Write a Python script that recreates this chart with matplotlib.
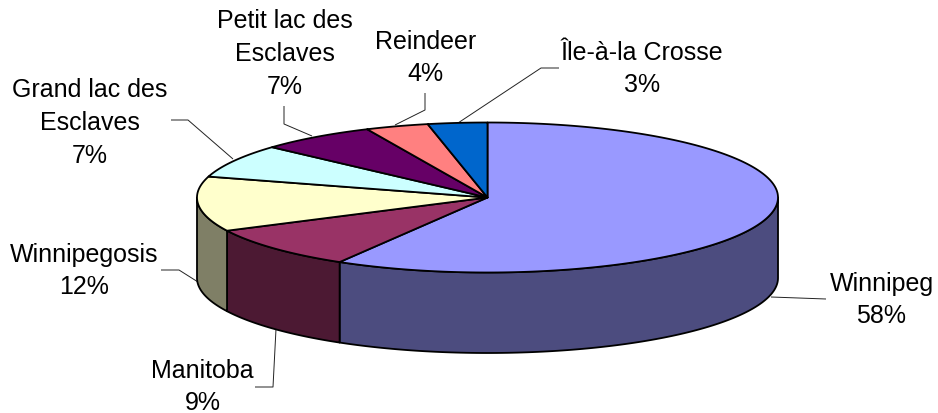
import numpy as np
import matplotlib
matplotlib.use("Agg")
import matplotlib.pyplot as plt
from matplotlib.patches import Polygon

plt.rcParams['font.family'] = ['Liberation Sans', 'DejaVu Sans']

lakes = ["Winnipeg", "Manitoba", "Winnipegosis", "Grand lac des\nEsclaves",
         "Petit lac des\nEsclaves", "Reindeer", "Île-à-la Crosse"]
shares = [58.5, 9.2, 11.8, 7.2, 6.5, 3.5, 3.3]
percent_labels = ["58%", "9%", "12%", "7%", "7%", "4%", "3%"]
top_colors = ["#9999FF", "#993366", "#FFFFCC", "#CCFFFF", "#660066", "#FF8080", "#0066CC"]
side_colors = ["#4C4C7F", "#4C1933", "#7F7F66", "#667F7F", "#330033", "#7F4040", "#003366"]
label_xy = [(881.5, 300), (202.5, 387), (84, 271), (90, 123), (285, 54), (425.5, 58), (642, 69)]
leaders = [
    [(771, 298), (826, 300)],
    [(276, 330), (273, 388), (255, 388)],
    [(198, 283), (179, 271), (161, 271)],
    [(233, 160), (188, 121), (171, 121)],
    [(312, 137), (284, 125), (284, 107)],
    [(395, 126), (425, 111), (425, 94)],
    [(458, 124), (541, 69), (559, 69)],
]

cx, cy, rx, ry, depth = 487.5, 198.5, 290.5, 75.0, 80.5


def rim(t, dy=0.0):
    return cx + rx * np.sin(t), cy - ry * np.cos(t) + dy


fig = plt.figure(figsize=(9.38, 4.14), dpi=100)
ax = fig.add_axes([0, 0, 1, 1])
ax.set_xlim(0, 938)
ax.set_ylim(414, 0)
ax.axis("off")

edges = np.concatenate([[0], np.cumsum(shares)]) / np.sum(shares) * 2 * np.pi

# side walls: only the front half (90 to 270 degrees) is visible
for i in range(len(shares)):
    a = max(edges[i], np.pi / 2)
    b = min(edges[i + 1], 3 * np.pi / 2)
    if b <= a:
        continue
    t = np.linspace(a, b, 120)
    x, y1 = rim(t)
    _, y2 = rim(t, depth)
    pts = np.r_[np.c_[x, y1], np.c_[x, y2][::-1]]
    ax.add_patch(Polygon(pts, closed=True, fc=side_colors[i], ec="black", lw=1.3,
                         joinstyle="round", zorder=2))

# top surface
for i in range(len(shares)):
    t = np.linspace(edges[i], edges[i + 1], 240)
    x, y = rim(t)
    pts = np.r_[[[cx, cy]], np.c_[x, y]]
    ax.add_patch(Polygon(pts, closed=True, fc=top_colors[i], ec="black", lw=1.3,
                         joinstyle="round", zorder=3))

# leader lines
for seg in leaders:
    xs, ys = zip(*seg)
    ax.plot(xs, ys, color="#222222", lw=0.7, zorder=1, solid_capstyle="butt")

# labels
for name, pct, (lx, ly) in zip(lakes, percent_labels, label_xy):
    ax.text(lx, ly, name + "\n" + pct, ha="center", va="center", ma="center",
            fontsize=18, color="black", linespacing=1.46)

fig.savefig("out.png", dpi=100)
